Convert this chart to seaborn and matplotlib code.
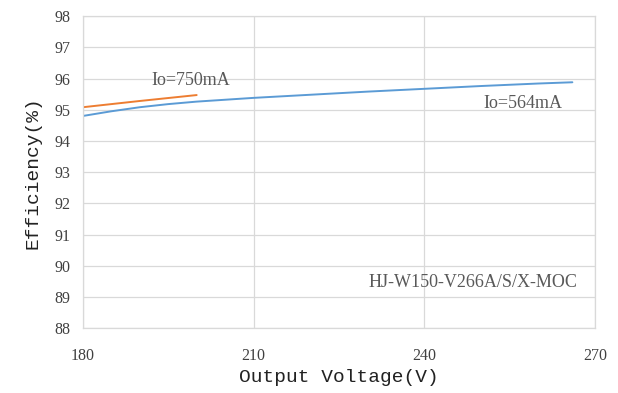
import matplotlib
matplotlib.use("Agg")
import matplotlib.pyplot as plt
import seaborn as sns
import pandas as pd

v_564 = [180, 185, 190, 195, 200, 210, 220, 230, 240, 250, 260, 266]
eff_564 = [94.8, 94.95, 95.08, 95.18, 95.26, 95.38, 95.48, 95.58, 95.67, 95.76, 95.84, 95.88]
v_750 = [180, 190, 200]
eff_750 = [95.08, 95.28, 95.47]
x_ticks = [180, 210, 240, 270]
y_ticks = [88, 89, 90, 91, 92, 93, 94, 95, 96, 97, 98]

df = pd.concat([
    pd.DataFrame({"V": v_564, "Eff": eff_564, "Io": "564mA"}),
    pd.DataFrame({"V": v_750, "Eff": eff_750, "Io": "750mA"}),
])

sns.set_style("white")
fig = plt.figure(figsize=(6.18, 3.93), dpi=100)
ax = fig.add_axes([0.134, 0.165, 0.829, 0.794])
sns.lineplot(data=df, x="V", y="Eff", hue="Io",
             palette={"564mA": "#5B9BD5", "750mA": "#ED7D31"},
             linewidth=1.4, legend=False, ax=ax, sort=False)
ax.set_xlim(180, 270)
ax.set_ylim(88, 98)
ax.set_xticks(x_ticks)
ax.set_yticks(y_ticks)
ax.grid(True, color="#D9D9D9", linewidth=0.9)
for s in ax.spines.values():
    s.set_color("#D9D9D9")
    s.set_linewidth(0.9)
ax.tick_params(axis="both", length=0, labelsize=11.5, colors="#404040")
ax.tick_params(axis="x", pad=14)
ax.tick_params(axis="y", pad=9)
for lab in ax.get_xticklabels() + ax.get_yticklabels():
    lab.set_family("Liberation Serif")
ax.set_xlabel("Output Voltage(V)", family="Liberation Mono", fontsize=14, color="#222222", labelpad=4)
ax.set_ylabel("Efficiency(%)", family="Liberation Mono", fontsize=14, color="#222222", labelpad=9)
ax.text(199, 95.95, "Io=750mA", family="Liberation Serif", fontsize=13, color="#595959", ha="center", va="center")
ax.text(257.3, 95.2, "Io=564mA", family="Liberation Serif", fontsize=13, color="#595959", ha="center", va="center")
ax.text(248.5, 89.45, "HJ-W150-V266A/S/X-MOC", family="Liberation Serif", fontsize=13, color="#595959", ha="center", va="center")
fig.savefig("out.png", dpi=100)
